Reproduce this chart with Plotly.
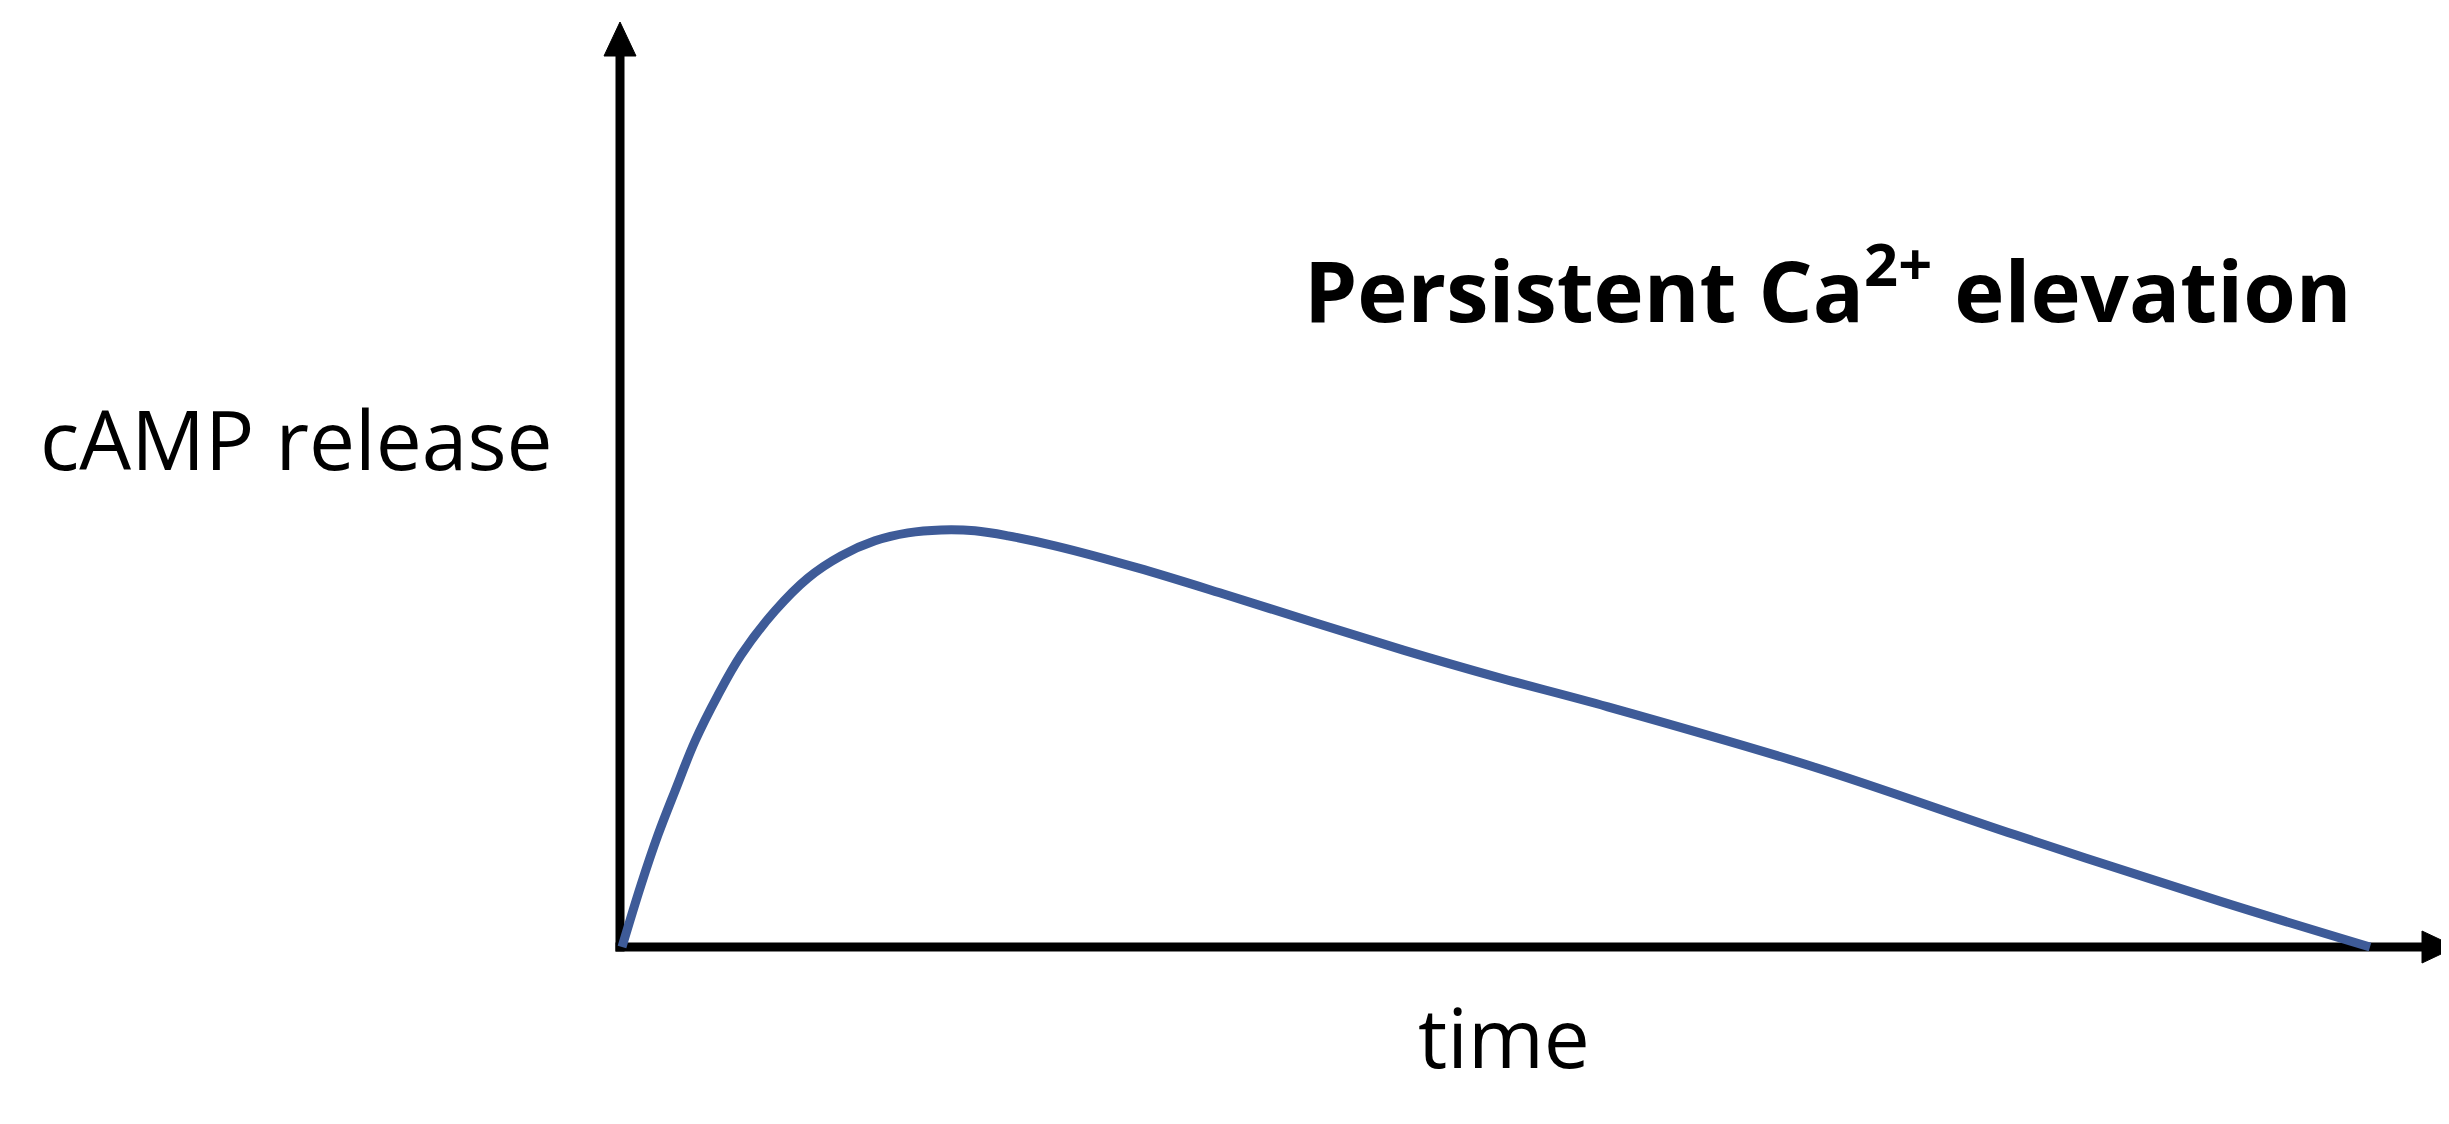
import plotly.graph_objects as go

# Data (time in arbitrary units 0-100, cAMP release relative, peak = 100)
time_vals = [0, 1.09, 2.06, 3.03, 4.18, 5.49, 6.81, 8.75, 10.64, 12.53, 14.47, 16.36,
             18.25, 20.19, 22.08, 24.77, 29.5, 34.6, 39.6, 44.7, 49.9, 56.4,
             68.1, 79.7, 91.4, 100]
camp_vals = [0, 14.9, 26.9, 37.4, 49.4, 60.4, 70.0, 80.6, 88.5, 93.8, 97.4, 99.3,
             100, 99.8, 98.6, 96.2, 90.9, 84.4, 77.8, 71.2, 64.9, 57.6,
             43.3, 26.9, 11.0, 0]

title_text = "<b>Persistent Ca<sup>2+</sup> elevation</b>"
y_label = "cAMP release"
x_label = "time"

W, H = 2449, 1124
X0, Y0 = 614, 939          # pixel position of origin
SX, SY = 17.48, 4.17       # pixels per data unit

def px(x):
    return x / W

def py(y):
    return 1 - y / H

fig = go.Figure()
fig.add_trace(go.Scatter(
    x=time_vals, y=camp_vals, mode="lines",
    line=dict(color="#3E5B98", width=9, shape="spline", smoothing=1.0),
    hoverinfo="skip", showlegend=False,
))

AX_X, AX_Y = 612, 939
LW = 9
shapes = [
    # y axis line
    dict(type="line", xref="paper", yref="paper", x0=px(AX_X), y0=py(AX_Y + 4.5),
         x1=px(AX_X), y1=py(44), line=dict(color="black", width=LW), layer="below"),
    # x axis line
    dict(type="line", xref="paper", yref="paper", x0=px(AX_X - 4.5), y0=py(AX_Y),
         x1=px(2418), y1=py(AX_Y), line=dict(color="black", width=LW), layer="below"),
    # y arrow head
    dict(type="path", xref="paper", yref="paper",
         path=f"M {px(AX_X)},{py(14)} L {px(AX_X - 16)},{py(48)} L {px(AX_X + 16)},{py(48)} Z",
         fillcolor="black", line=dict(color="black", width=1), layer="below"),
    # x arrow head
    dict(type="path", xref="paper", yref="paper",
         path=f"M {px(2448)},{py(AX_Y)} L {px(2414)},{py(AX_Y - 16)} L {px(2414)},{py(AX_Y + 16)} Z",
         fillcolor="black", line=dict(color="black", width=1), layer="below"),
]

FONT = "'Open Sans', 'Noto Sans', sans-serif"
annotations = [
    dict(text=title_text, xref="paper", yref="paper", x=px(1820), y=py(276),
         xanchor="center", yanchor="middle", showarrow=False,
         font=dict(family=FONT, size=85, color="black")),
    dict(text=y_label, xref="paper", yref="paper", x=px(288), y=py(430),
         xanchor="center", yanchor="middle", showarrow=False,
         font=dict(family=FONT, size=82, color="black")),
    dict(text=x_label, xref="paper", yref="paper", x=px(1496), y=py(1028),
         xanchor="center", yanchor="middle", showarrow=False,
         font=dict(family=FONT, size=82, color="black")),
]

fig.update_layout(
    width=W, height=H,
    margin=dict(l=0, r=0, t=0, b=0),
    paper_bgcolor="white", plot_bgcolor="white",
    xaxis=dict(range=[-X0 / SX, (W - X0) / SX], visible=False, fixedrange=True),
    yaxis=dict(range=[-(H - Y0) / SY, Y0 / SY], visible=False, fixedrange=True),
    shapes=shapes, annotations=annotations, showlegend=False,
)

fig.write_html("out.html", config={"displayModeBar": False})
